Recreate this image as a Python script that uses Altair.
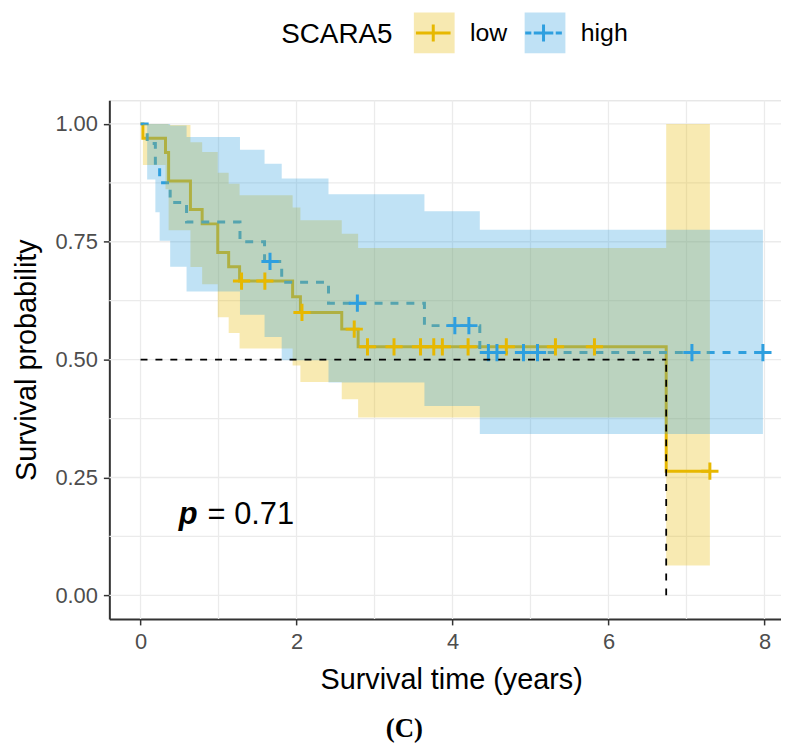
import altair as alt
import pandas as pd

LOW = "#E7B800"
HIGH = "#2E9FDF"

# ---- Kaplan-Meier curves ----
low_time = [0, 0.03, 0.32, 0.36, 0.64, 0.79, 0.99, 1.13, 1.27, 1.95, 2.05, 2.58, 2.79, 6.74, 7.30]
low_surv = [1, 0.9697, 0.9394, 0.8788, 0.8182, 0.7879, 0.7273, 0.6970, 0.6667, 0.6333, 0.6000, 0.5647, 0.5271, 0.2635, 0.2635]
low_upper = [1, 1, 1, 0.9975, 0.961, 0.9405, 0.8963, 0.8728, 0.8486, 0.8225, 0.7955, 0.7669, 0.7365, 1, 1]
low_lower = [1, 0.913, 0.8614, 0.7742, 0.6966, 0.660, 0.5901, 0.5566, 0.5237, 0.4877, 0.4526, 0.4158, 0.3772, 0.0633, 0.0633]

high_time = [0, 0.085, 0.19, 0.245, 0.38, 0.59, 1.275, 1.59, 1.81, 2.41, 3.64, 4.35, 7.98]
high_surv = [1, 0.9583, 0.9167, 0.875, 0.8333, 0.7917, 0.75, 0.7083, 0.6641, 0.6198, 0.5721, 0.5149, 0.5149]
high_upper = [1, 1, 1, 1, 0.9966, 0.972, 0.945, 0.9157, 0.884, 0.8506, 0.8146, 0.7753, 0.7753]
high_lower = [1, 0.882, 0.8125, 0.752, 0.6968, 0.6447, 0.5954, 0.5479, 0.4988, 0.4517, 0.4019, 0.342, 0.342]

# censoring marks
low_cens_t = [1.295, 1.594, 2.07, 2.74, 2.91, 3.25, 3.59, 3.76, 3.87, 4.20, 4.69, 5.32, 5.82, 7.30]
low_cens_s = [0.6667, 0.6667, 0.6000, 0.5647, 0.5271, 0.5271, 0.5271, 0.5271, 0.5271, 0.5271, 0.5271, 0.5271, 0.5271, 0.2635]
high_cens_t = [1.66, 2.78, 4.03, 4.21, 4.46, 4.57, 4.91, 5.09, 7.07, 7.98]
high_cens_s = [0.7083, 0.6198, 0.5721, 0.5721, 0.5149, 0.5149, 0.5149, 0.5149, 0.5149, 0.5149]

# median survival guide (low group)
median_x = [0, 6.74]
median_x2 = [6.74, 6.74]
median_y = [0.5, 0.0]
median_y2 = [0.5, 0.5]

x_ticks = [0, 2, 4, 6, 8]
x_grid = [0, 1, 2, 3, 4, 5, 6, 7, 8]
y_ticks = [0, 0.25, 0.5, 0.75, 1.0]
y_grid = [0, 0.125, 0.25, 0.375, 0.5, 0.625, 0.75, 0.875, 1.0]

groups = ["low", "high"]

FONT = "Liberation Sans"

low_df = pd.DataFrame({"t": low_time, "s": low_surv, "lo": low_lower, "hi": low_upper, "grp": "low"})
high_df = pd.DataFrame({"t": high_time, "s": high_surv, "lo": high_lower, "hi": high_upper, "grp": "high"})
curves = pd.concat([low_df, high_df], ignore_index=True)
low_cens = pd.DataFrame({"t": low_cens_t, "s": low_cens_s})
high_cens = pd.DataFrame({"t": high_cens_t, "s": high_cens_s})
median_df = pd.DataFrame({"x": median_x, "x2": median_x2, "y": median_y, "y2": median_y2})
xg_df = pd.DataFrame({"t": x_grid})
yg_df = pd.DataFrame({"s": y_grid})
legend_df = pd.DataFrame({"key": groups, "t": [-5, -5], "s": [0.5, 0.5]})
ptxt = pd.DataFrame({"t": [0.49], "s": [0.152], "txt": ["p"]})
vtxt = pd.DataFrame({"t": [0.86], "s": [0.152], "txt": ["= 0.71"]})

xs = alt.Scale(domain=[-0.4, 8.212], nice=False, zero=False)
ys = alt.Scale(domain=[-0.05, 1.05], nice=False, zero=False)

xaxis = alt.Axis(values=x_ticks, grid=False, format="d", tickSize=6, tickColor="#333333",
                 tickWidth=1.5, domainColor="#333333", domainWidth=2,
                 labelFont=FONT, labelFontSize=22, labelColor="#4D4D4D", labelPadding=7,
                 titleFont=FONT, titleFontSize=29, titleFontWeight="normal", titleColor="black",
                 titlePadding=13, titleX=344)
yaxis = alt.Axis(values=y_ticks, grid=False, format=".2f", tickSize=6, tickColor="#333333",
                 tickWidth=1.5, domainColor="#333333", domainWidth=2,
                 labelFont=FONT, labelFontSize=22, labelColor="#4D4D4D", labelPadding=6,
                 titleFont=FONT, titleFontSize=29, titleFontWeight="normal", titleColor="black",
                 titlePadding=14)

XT = "Survival time (years)"
YT = "Survival probability"


def X(f):
    return alt.X(f, type="quantitative", scale=xs, axis=xaxis, title=XT)


def Y(f):
    return alt.Y(f, type="quantitative", scale=ys, axis=yaxis, title=YT)


# legend A: light key squares, title and labels
legA = alt.Legend(orient="none", legendX=173, legendY=-90, direction="horizontal",
                  titleOrient="left", title="SCARA5", titleFont=FONT, titleFontSize=28,
                  titleFontWeight="normal", titleColor="black", titlePadding=19,
                  labelFont=FONT, labelFontSize=25, labelColor="black", labelOffset=14,
                  columnPadding=10.5, symbolSize=1681, symbolStrokeWidth=3,
                  symbolType="square", symbolOpacity=0.3, symbolStrokeColor="transparent")
# legend B: line + cross glyphs drawn over the squares (no text of its own)
legB = alt.Legend(orient="none", legendX=304, legendY=-90, direction="horizontal", title=None,
                  labelExpr="''", labelFont=FONT, labelFontSize=25, labelOffset=0,
                  columnPadding=62, symbolSize=1681, symbolStrokeWidth=3, symbolOpacity=1,
                  symbolFillColor="transparent",
                  symbolStrokeColor=alt.ExprRef(f"datum.value === 'low' ? '{LOW}' : '{HIGH}'"))

PLUS = "M-1,0L1,0M0,-1L0,1"
KEY_LOW = "M-0.85,0L0.85,0M0,-0.42L0,0.42"
KEY_HIGH = "M-0.9,0L-0.6,0M-0.48,0L0.48,0M0.6,0L0.9,0M0,-0.42L0,0.42"

grid_x = alt.Chart(xg_df).mark_rule(color="#EBEBEB", strokeWidth=1.3).encode(x=X("t"))
grid_y = alt.Chart(yg_df).mark_rule(color="#EBEBEB", strokeWidth=1.3).encode(y=Y("s"))

line_low = alt.Chart(low_df).mark_line(interpolate="step-after", color=LOW, strokeWidth=3).encode(
    x=X("t"), y=Y("s"))
line_high = alt.Chart(high_df).mark_line(interpolate="step-after", color=HIGH, strokeWidth=3,
                                         strokeDash=[8, 8]).encode(x=X("t"), y=Y("s"))

bands = alt.Chart(curves).mark_area(interpolate="step-after", fillOpacity=0.3).encode(
    x=X("t"),
    y=alt.Y("lo", type="quantitative", scale=ys, axis=yaxis, title=YT, stack=None),
    y2=alt.Y2("hi"),
    fill=alt.Fill("grp:N", scale=alt.Scale(domain=groups, range=[LOW, HIGH]), legend=legA),
)

cens_low = alt.Chart(low_cens).mark_point(shape=PLUS, filled=False, size=300, strokeWidth=3,
                                          color=LOW, opacity=1).encode(x=X("t"), y=Y("s"))
cens_high = alt.Chart(high_cens).mark_point(shape=PLUS, filled=False, size=300, strokeWidth=3,
                                            color=HIGH, opacity=1).encode(x=X("t"), y=Y("s"))

legend_layer = alt.Chart(legend_df).mark_point(filled=False, strokeWidth=3, clip=True,
                                               color="#888888").encode(
    x=X("t"), y=Y("s"),
    shape=alt.Shape("key:N", sort=groups, scale=alt.Scale(range=[KEY_LOW, KEY_HIGH]), legend=legB),
)

median = alt.Chart(median_df).mark_rule(color="black", strokeWidth=1.8, strokeDash=[7, 8]).encode(
    x=X("x"), x2="x2", y=Y("y"), y2="y2")

p_label = alt.Chart(ptxt).mark_text(font=FONT, fontSize=31, fontStyle="italic", fontWeight="bold",
                                    align="left", baseline="alphabetic", color="black").encode(
    x=X("t"), y=Y("s"), text="txt:N")
v_label = alt.Chart(vtxt).mark_text(font=FONT, fontSize=31, align="left", baseline="alphabetic",
                                    color="black").encode(x=X("t"), y=Y("s"), text="txt:N")

chart = alt.layer(
    grid_x, grid_y, line_low, line_high, bands, cens_low, cens_high, legend_layer, median,
    p_label, v_label,
).properties(
    width=676, height=522,
    padding={"left": 102, "top": 90.5, "right": 0, "bottom": 130},
    autosize=alt.AutoSizeParams(type="none"),
    title=alt.TitleParams("(C)", orient="bottom", font="Liberation Serif", fontSize=27,
                          fontWeight="bold", color="black", anchor="middle", dx=-41, offset=22),
).configure_view(
    stroke="#333333", strokeWidth=1.5
).configure(background="white")

chart.save("out.html", embed_options={"renderer": "svg", "actions": False})
